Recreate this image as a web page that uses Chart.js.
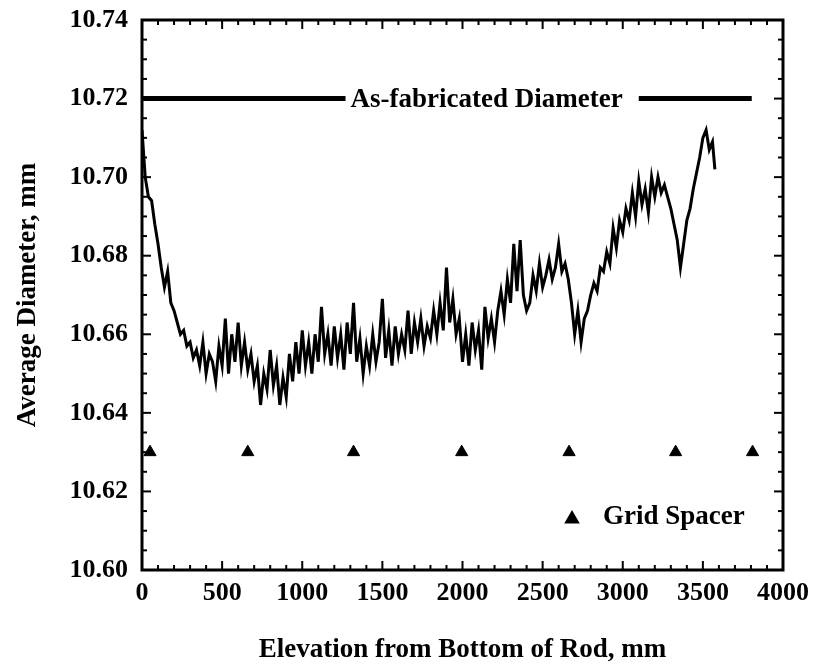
<!DOCTYPE html>
<html><head><meta charset="utf-8">
<script src="https://cdn.jsdelivr.net/npm/chart.js@4.4.1/dist/chart.umd.min.js"></script>
<style>html,body{margin:0;padding:0;background:#fff}</style>
</head><body>
<canvas id="c" width="819" height="669"></canvas>
<script>
// ---- data ----
const elevation = [
  0,20,40,60,80,100,120,140,160,180,
  200,220,240,260,280,300,320,340,360,380,
  400,420,440,460,480,500,520,540,560,580,
  600,620,640,660,680,700,720,740,760,780,
  800,820,840,860,880,900,920,940,960,980,
  1000,1020,1040,1060,1080,1100,1120,1140,1160,1180,
  1200,1220,1240,1260,1280,1300,1320,1340,1360,1380,
  1400,1420,1440,1460,1480,1500,1520,1540,1560,1580,
  1600,1620,1640,1660,1680,1700,1720,1740,1760,1780,
  1800,1820,1840,1860,1880,1900,1920,1940,1960,1980,
  2000,2020,2040,2060,2080,2100,2120,2140,2160,2180,
  2200,2220,2240,2260,2280,2300,2320,2340,2360,2380,
  2400,2420,2440,2460,2480,2500,2520,2540,2560,2580,
  2600,2620,2640,2660,2680,2700,2720,2740,2760,2780,
  2800,2820,2840,2860,2880,2900,2920,2940,2960,2980,
  3000,3020,3040,3060,3080,3100,3120,3140,3160,3180,
  3200,3220,3240,3260,3280,3300,3320,3340,3360,3380,
  3400,3420,3440,3460,3480,3500,3520,3540,3560,3575
];
const diameter = [
  10.712,10.700,10.695,10.694,10.688,10.683,10.677,10.672,10.676,10.668,
  10.666,10.663,10.660,10.661,10.657,10.658,10.654,10.656,10.652,10.658,
  10.650,10.655,10.653,10.648,10.657,10.652,10.664,10.650,10.660,10.653,
  10.663,10.652,10.658,10.651,10.655,10.648,10.652,10.642,10.650,10.646,
  10.656,10.647,10.652,10.642,10.649,10.644,10.655,10.648,10.658,10.650,
  10.661,10.652,10.658,10.650,10.660,10.653,10.667,10.655,10.660,10.652,
  10.662,10.654,10.660,10.651,10.663,10.655,10.668,10.653,10.659,10.650,
  10.657,10.652,10.660,10.653,10.658,10.669,10.654,10.661,10.652,10.662,
  10.655,10.660,10.656,10.666,10.655,10.663,10.658,10.664,10.657,10.662,
  10.659,10.666,10.660,10.668,10.661,10.677,10.663,10.669,10.660,10.664,
  10.653,10.660,10.652,10.663,10.656,10.661,10.651,10.667,10.659,10.664,
  10.658,10.666,10.671,10.665,10.674,10.668,10.683,10.671,10.684,10.670,
  10.666,10.668,10.675,10.671,10.678,10.672,10.675,10.679,10.674,10.677,
  10.683,10.676,10.678,10.674,10.668,10.660,10.666,10.658,10.664,10.666,
  10.670,10.673,10.671,10.677,10.676,10.681,10.678,10.687,10.682,10.689,
  10.686,10.692,10.689,10.696,10.690,10.699,10.693,10.697,10.691,10.700,
  10.695,10.700,10.696,10.698,10.695,10.692,10.688,10.684,10.677,10.683,
  10.689,10.692,10.697,10.701,10.705,10.710,10.712,10.707,10.709,10.702
];
const gridSpacerElevation = [50, 660, 1320, 1995, 2665, 3330, 3810];
const gridSpacerDiameter  = [10.63, 10.63, 10.63, 10.63, 10.63, 10.63, 10.63];
const asFabElevation = [0, 1270, 2185, 3100, 3805];
const asFabDiameter  = [10.72, 10.72, null, 10.72, 10.72];
const asFabLabel = 'As-fabricated Diameter';
const asFabLabelElevation = 2150;
const legendLabel = 'Grid Spacer';
const xTitle = 'Elevation from Bottom of Rod, mm';
const yTitle = 'Average Diameter, mm';
const xMin = 0, xMax = 4000, xStep = 500, xMinor = 100;
const yMin = 10.60, yMax = 10.74, yStep = 0.02, yMinor = 0.005;

// ---- rendering ----
const SERIF = "'Liberation Serif','Times New Roman',serif";
const zip = (xs, ys) => xs.map((v, i) => ({x: v, y: ys[i]}));

const framePlugin = {
  id: 'frameTicks',
  afterDatasetsDraw(chart) {
    const {ctx, chartArea: a, scales: {x, y}} = chart;
    ctx.save();
    ctx.strokeStyle = '#000';
    ctx.lineWidth = 2;
    const seg = (x1, y1, x2, y2) => { ctx.beginPath(); ctx.moveTo(x1, y1); ctx.lineTo(x2, y2); ctx.stroke(); };
    const nx = Math.round((xMax - xMin) / xMinor);
    for (let i = 0; i <= nx; i++) {
      const v = xMin + i * xMinor;
      const px = x.getPixelForValue(v);
      const L = (Math.round(v) % xStep === 0) ? 9 : 5;
      seg(px, a.bottom, px, a.bottom - L);
      seg(px, a.top, px, a.top + L);
    }
    const ny = Math.round((yMax - yMin) / yMinor);
    for (let i = 0; i <= ny; i++) {
      const v = yMin + i * yMinor;
      const py = y.getPixelForValue(v);
      const L = (i % Math.round(yStep / yMinor) === 0) ? 9 : 5;
      seg(a.left, py, a.left + L, py);
      seg(a.right, py, a.right - L, py);
    }
    ctx.lineWidth = 3;
    ctx.strokeRect(a.left, a.top, a.right - a.left, a.bottom - a.top);

    // as-fabricated label
    ctx.fillStyle = '#000';
    ctx.font = 'bold 27px ' + SERIF;
    ctx.textAlign = 'center';
    ctx.textBaseline = 'middle';
    ctx.fillText(asFabLabel, x.getPixelForValue(asFabLabelElevation), y.getPixelForValue(10.72) + 1);

    // legend
    const lx = a.right - 211, ly = a.bottom - 53;
    Chart.helpers.drawPoint(ctx, {pointStyle: 'triangle', radius: 6, rotation: 0, borderWidth: 1}, lx, ly + 2);
    ctx.fill();
    ctx.textAlign = 'left';
    ctx.fillText(legendLabel, lx + 31, ly);
    ctx.restore();
  }
};

new Chart(document.getElementById('c'), {
  type: 'scatter',
  data: {
    datasets: [
      {
        label: 'Average Diameter',
        data: zip(elevation, diameter),
        showLine: true,
        borderColor: '#000',
        borderWidth: 3,
        pointRadius: 0,
        tension: 0,
        order: 2
      },
      {
        label: asFabLabel,
        data: zip(asFabElevation, asFabDiameter),
        showLine: true,
        spanGaps: false,
        borderColor: '#000',
        borderWidth: 5,
        pointRadius: 0,
        order: 1
      },
      {
        label: legendLabel,
        data: zip(gridSpacerElevation, gridSpacerDiameter),
        showLine: false,
        pointStyle: 'triangle',
        pointRadius: 7,
        pointBackgroundColor: '#000',
        pointBorderColor: '#000',
        pointBorderWidth: 1,
        order: 0
      }
    ]
  },
  options: {
    responsive: false,
    animation: false,
    devicePixelRatio: 1,
    layout: {padding: {left: 0, right: 36, top: 20, bottom: 0}},
    plugins: {legend: {display: false}, tooltip: {enabled: false}},
    scales: {
      x: {
        type: 'linear', min: xMin, max: xMax,
        grid: {display: false, drawTicks: false},
        border: {display: false},
        ticks: {stepSize: xStep, padding: 8, color: '#000',
                font: {family: SERIF, size: 26, weight: 'bold'},
                maxRotation: 0, autoSkip: false,
                callback: v => String(v)},
        title: {display: true, text: xTitle, color: '#000',
                font: {family: SERIF, size: 27, weight: 'bold'},
                padding: {top: 0, bottom: 3}},
        afterFit: s => { s.height = 99; s.paddingLeft = 0; s.paddingRight = 0; }
      },
      y: {
        type: 'linear', min: yMin, max: yMax,
        grid: {display: false, drawTicks: false},
        border: {display: false},
        ticks: {stepSize: yStep, padding: 14, color: '#000',
                font: {family: SERIF, size: 26, weight: 'bold'},
                autoSkip: false,
                callback: v => Number(v).toFixed(2)},
        title: {display: true, text: yTitle, color: '#000',
                font: {family: SERIF, size: 27, weight: 'bold'},
                padding: {top: 12, bottom: 0}},
        afterFit: s => { s.width = 142; s.paddingTop = 0; s.paddingBottom = 0; }
      }
    }
  },
  plugins: [framePlugin]
});
</script>
</body></html>
